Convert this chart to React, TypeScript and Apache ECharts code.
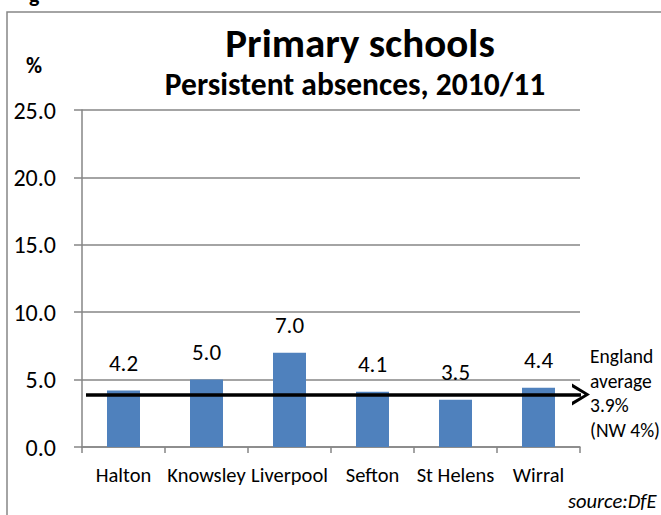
import React, { useEffect, useRef } from "react";
import * as echarts from "echarts";

const categories = ["Halton", "Knowsley", "Liverpool", "Sefton", "St Helens", "Wirral"];
const values = [4.2, 5.0, 7.0, 4.1, 3.5, 4.4];
const englandAverage = 3.9;
const yTicks = { min: 0, max: 25, interval: 5 };
const titleText = "Primary schools";
const subtitleText = "Persistent absences, 2010/11";
const noteLines = ["England", "average", "3.9%", "(NW 4%)"];
const sourceText = "source:DfE";

const FONT = "Carlito, Calibri, Lato, sans-serif";
const chevron = "path://M0,10 L5,0 L10,10 L8.3,10 L5,3 L1.7,10 Z";

export default function App() {
  const ref = useRef<HTMLDivElement>(null);
  useEffect(() => {
    document.body.style.margin = "0";
    const chart = echarts.init(ref.current!, null, { renderer: "svg" });
    chart.setOption({
      animation: false,
      backgroundColor: "#ffffff",
      textStyle: { fontFamily: FONT },
      grid: { left: 82, right: 81, top: 110, bottom: 68, containLabel: false },
      xAxis: {
        type: "category",
        data: categories,
        axisLine: { lineStyle: { color: "#868686", width: 1.5 } },
        axisTick: { show: true, length: 6, lineStyle: { color: "#868686", width: 1.5 } },
        axisLabel: { color: "#000", fontSize: 20.5, margin: 17, fontFamily: FONT, interval: 0 },
      },
      yAxis: {
        type: "value",
        min: yTicks.min,
        max: yTicks.max,
        interval: yTicks.interval,
        axisLine: { show: true, lineStyle: { color: "#868686", width: 1.5 } },
        axisTick: { show: true, length: 8, lineStyle: { color: "#868686", width: 1.5 } },
        splitLine: { lineStyle: { color: "#868686", width: 1.5 } },
        axisLabel: {
          color: "#000",
          fontSize: 24,
          margin: 26,
          fontFamily: FONT,
          formatter: (v: number) => v.toFixed(1),
        },
      },
      series: [
        {
          type: "bar",
          data: values,
          barWidth: 33,
          itemStyle: { color: "#4F81BD" },
          label: {
            show: true,
            position: "top",
            distance: 16,
            color: "#000",
            fontSize: 23,
            fontFamily: FONT,
            formatter: (p: any) => Number(p.value).toFixed(1),
          },
          markLine: {
            silent: true,
            animation: false,
            symbol: ["none", chevron],
            symbolSize: [22, 18],
            label: { show: false },
            lineStyle: { color: "#000", width: 3.5, type: "solid" },
            emphasis: { disabled: true },
            data: [[{ xAxis: 0, yAxis: englandAverage, x: 86 }, { xAxis: 5, yAxis: englandAverage, x: 581 }]],
          },
        },
      ],
      graphic: [
        {
          type: "rect",
          shape: { x: 7, y: 12, width: 700, height: 600 },
          style: { fill: "none", stroke: "#868686", lineWidth: 1.5 },
          silent: true,
        },
        {
          type: "text",
          x: 29,
          y: -17,
          style: { text: "g", font: `bold 22px ${FONT}`, fill: "#000" },
        },
        {
          type: "text",
          x: 34,
          y: 65,
          style: { text: "%", font: `bold 22px ${FONT}`, fill: "#000", textAlign: "center", textVerticalAlign: "middle" },
        },
        {
          type: "text",
          x: 360,
          y: 43,
          style: { text: titleText, font: `bold 41px ${FONT}`, fill: "#000", textAlign: "center", textVerticalAlign: "middle" },
        },
        {
          type: "text",
          x: 355,
          y: 84,
          style: { text: subtitleText, font: `bold 31.5px ${FONT}`, fill: "#000", textAlign: "center", textVerticalAlign: "middle" },
        },
        ...noteLines.map((t, i) => ({
          type: "text",
          x: 590,
          y: 356 + i * 24.5,
          style: { text: t, font: `19.5px ${FONT}`, fill: "#000", textAlign: "left", textVerticalAlign: "middle" },
        })),
        {
          type: "text",
          x: 568,
          y: 501,
          style: { text: sourceText, font: `italic 20.5px ${FONT}`, fill: "#000", textAlign: "left", textVerticalAlign: "middle" },
        },
      ],
    });
    return () => chart.dispose();
  }, []);
  return <div ref={ref} style={{ position: "fixed", left: 0, top: 0, width: 661, height: 515 }} />;
}
